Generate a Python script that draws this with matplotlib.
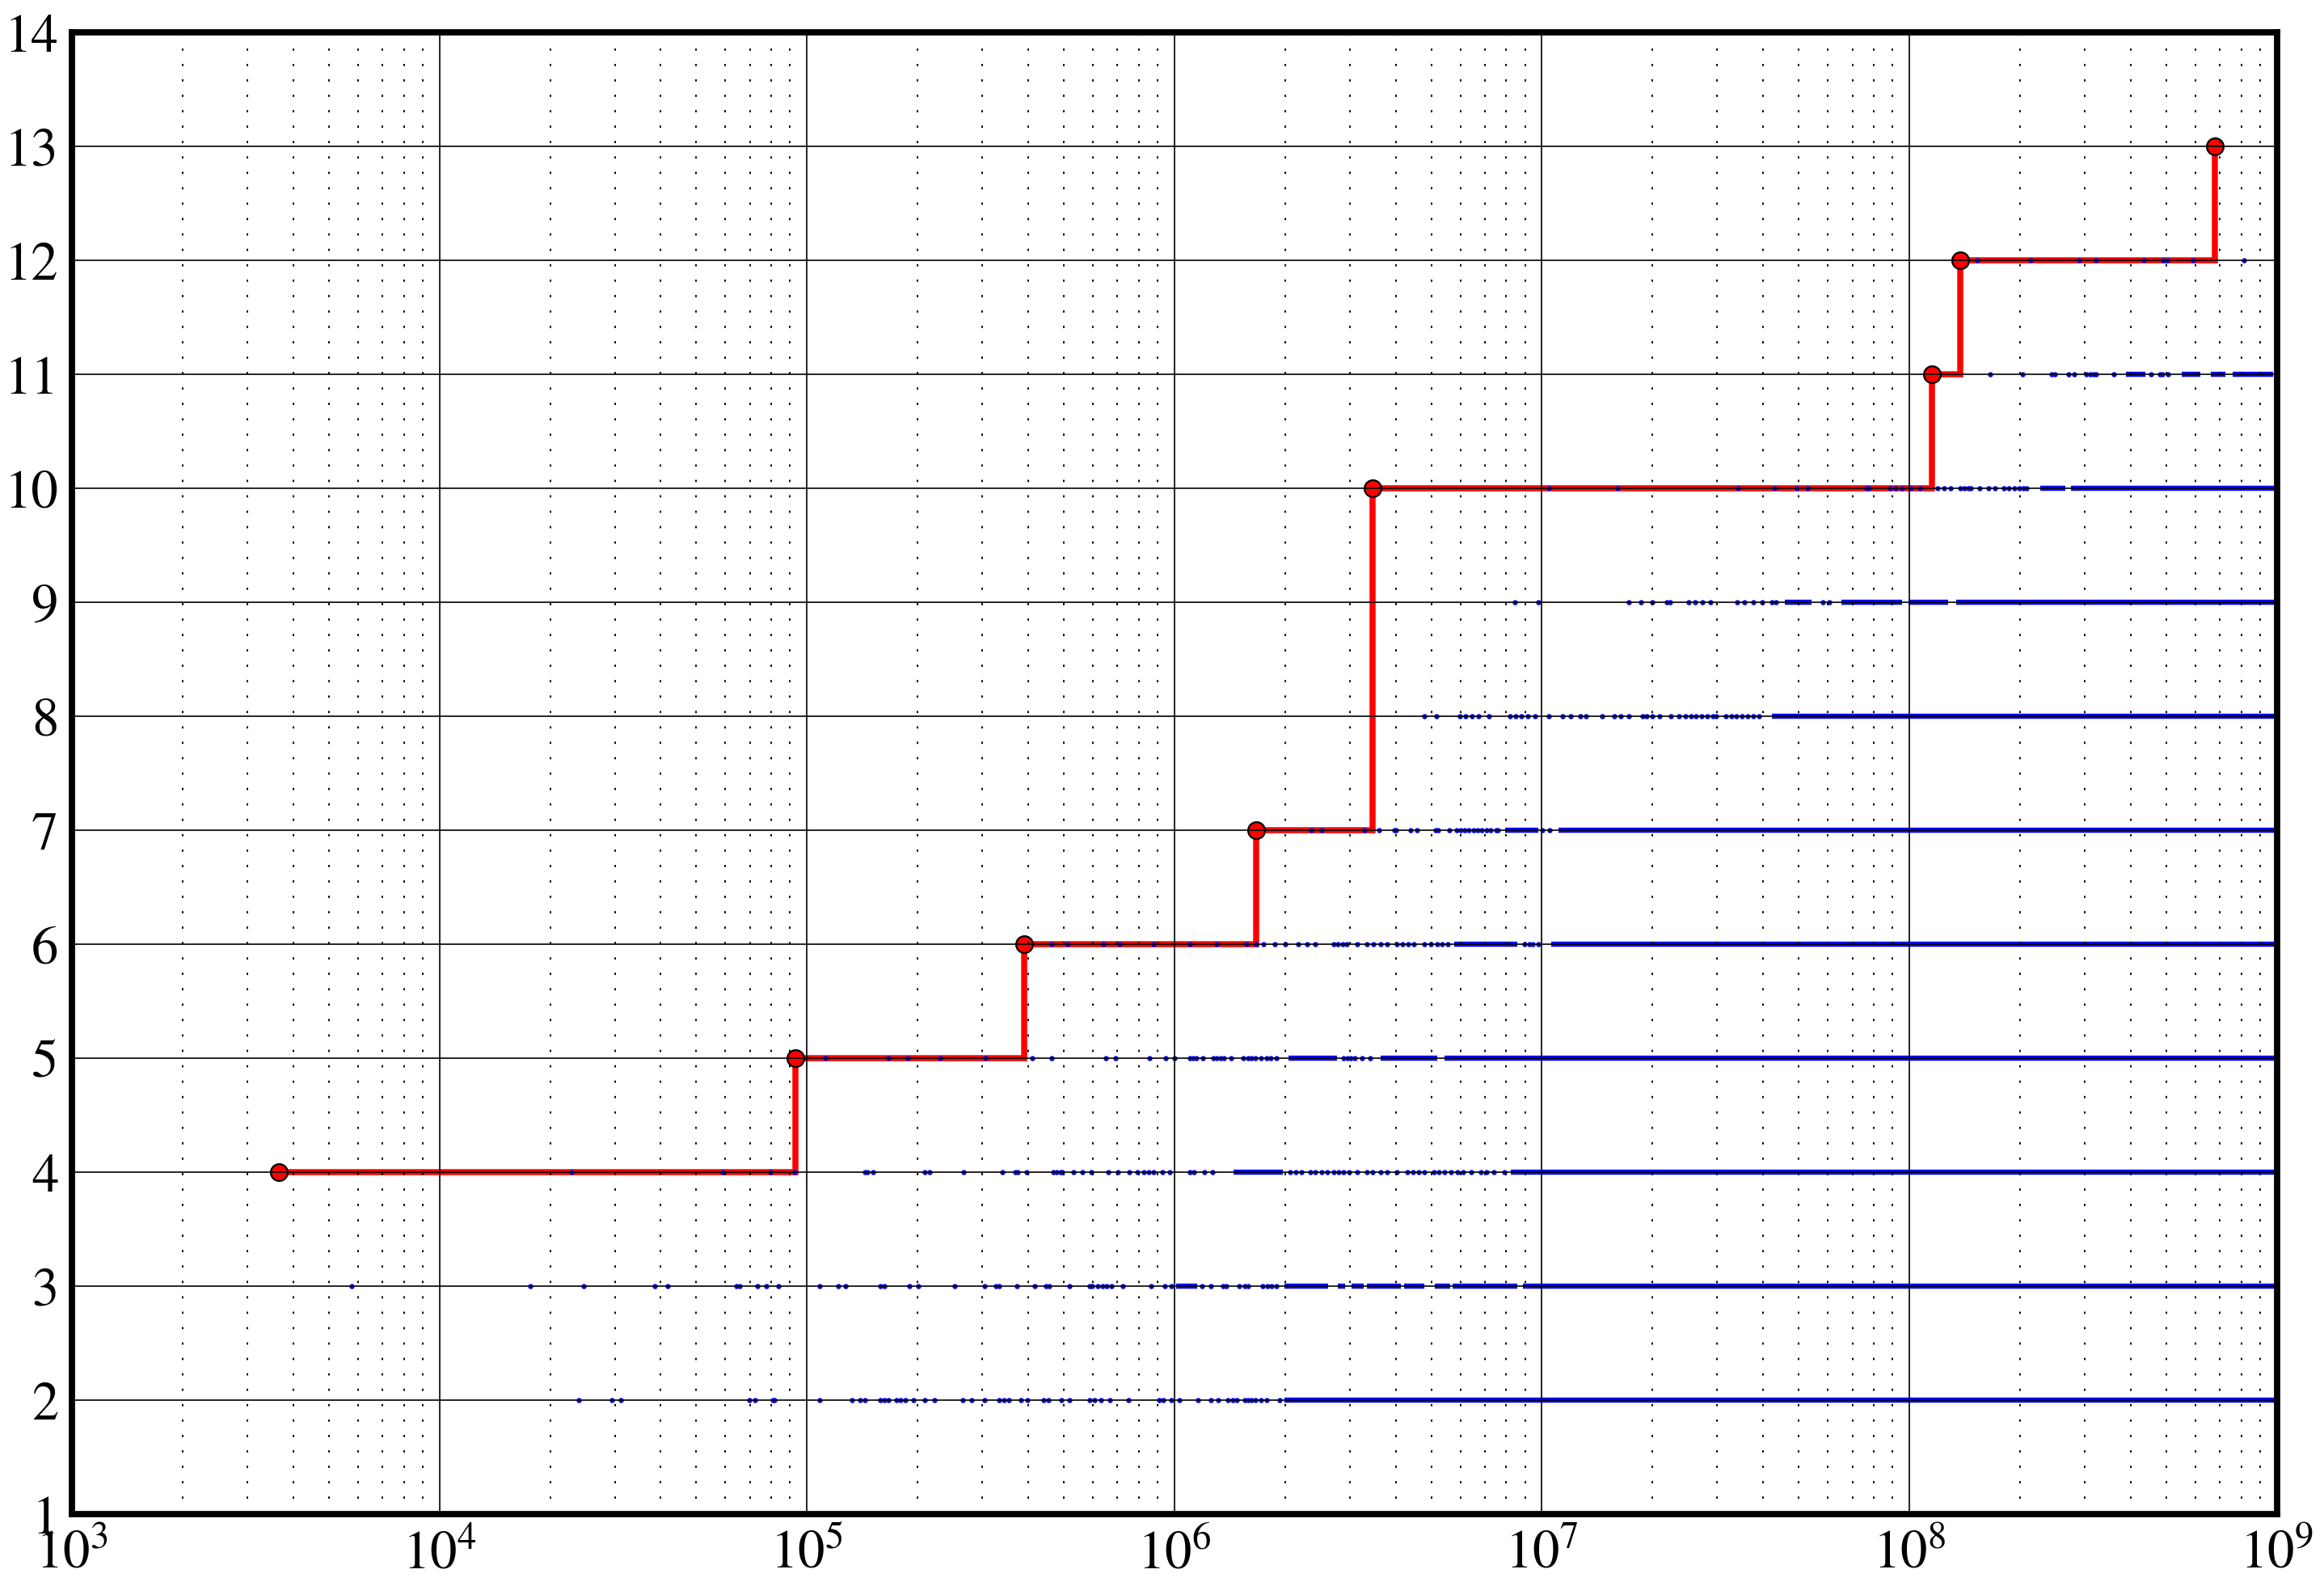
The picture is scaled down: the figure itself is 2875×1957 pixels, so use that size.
import numpy as np
import matplotlib
matplotlib.use('Agg')
import matplotlib.pyplot as plt
from matplotlib.ticker import LogLocator, NullFormatter

plt.rcParams['font.family'] = ['STIXGeneral', 'DejaVu Serif']
plt.rcParams['mathtext.fontset'] = 'stix'

# 红色台阶线：每一级首次出现的位置 (log10 x) 和对应的值
rec_logx = [3.563, 4.969, 5.592, 6.223, 6.540, 8.061, 8.138, 8.832]
rec_y = [4, 5, 6, 7, 10, 11, 12, 13]

# 蓝色散点 (log10 x)，每一行单独给出；密集处用区段 (起点, 终点) 表示
dots_2 = [4.379, 4.470, 4.494, 4.843, 4.858, 4.907, 4.911, 5.035, 5.122, 5.144,
          5.157, 5.199, 5.211, 5.222, 5.244, 5.255, 5.268, 5.290, 5.321, 5.348,
          5.423, 5.448, 5.483, 5.523, 5.536, 5.550, 5.583, 5.599, 5.643, 5.658,
          5.692, 5.714, 5.769, 5.783, 5.800, 5.825, 5.874, 5.958, 5.969, 5.991,
          6.013, 6.064, 6.100, 6.118, 6.146, 6.158, 6.169, 6.191, 6.200, 6.210,
          6.220, 6.235, 6.250, 6.286]
runs_2 = [(6.300, 9.0)]

dots_3 = [3.760, 4.246, 4.393, 4.585, 4.621, 4.807, 4.816, 4.865, 4.889, 4.923,
          5.035, 5.086, 5.104, 5.199, 5.211, 5.279, 5.304, 5.403, 5.483, 5.515,
          5.523, 5.572, 5.619, 5.650, 5.659, 5.714, 5.769, 5.776, 5.791, 5.805,
          5.816, 5.829, 5.860, 5.936, 5.973, 5.991, 6.075, 6.100, 6.133, 6.140,
          6.177, 6.191, 6.200, 6.239, 6.253, 6.264, 6.277]
runs_3 = [(6.004, 6.062), (6.300, 6.418), (6.444, 6.465), (6.481, 6.515),
          (6.524, 6.616), (6.625, 6.680), (6.709, 6.751), (6.756, 6.933),
          (6.949, 9.0)]

dots_4 = [4.360, 4.770, 4.901, 4.966, 5.157, 5.165, 5.180, 5.321, 5.333, 5.427,
          5.531, 5.567, 5.573, 5.598, 5.671, 5.680, 5.690, 5.695, 5.726, 5.749,
          5.773, 5.819, 5.846, 5.877, 5.899, 5.917, 5.930, 5.944, 5.968, 5.986,
          6.041, 6.054, 6.081, 6.103, 6.315, 6.330, 6.345, 6.369, 6.384, 6.400,
          6.417, 6.433, 6.446, 6.460, 6.475, 6.497, 6.524, 6.540, 6.561, 6.579,
          6.606, 6.634, 6.650, 6.665, 6.679, 6.706, 6.720, 6.734, 6.752, 6.770,
          6.785, 6.807, 6.834, 6.850, 6.870, 6.898]
runs_4 = [(6.160, 6.296), (6.916, 9.0)]

dots_5 = [5.051, 5.221, 5.275, 5.363, 5.485, 5.613, 5.665, 5.813, 5.840, 5.932,
          5.977, 6.001, 6.041, 6.050, 6.060, 6.077, 6.105, 6.115, 6.125, 6.135,
          6.154, 6.187, 6.200, 6.210, 6.220, 6.235, 6.250, 6.262, 6.278, 6.460,
          6.470, 6.480, 6.490, 6.510, 6.533]
runs_5 = [(6.311, 6.442), (6.561, 6.716), (6.734, 9.0)]

dots_6 = [5.665, 5.709, 5.806, 5.850, 5.944, 6.043, 6.114, 6.196, 6.223, 6.242,
          6.274, 6.302, 6.336, 6.360, 6.384, 6.433, 6.445, 6.457, 6.469, 6.497,
          6.524, 6.542, 6.561, 6.579, 6.606, 6.620, 6.635, 6.652, 6.679, 6.697,
          6.716, 6.729, 6.743, 6.953, 6.965, 6.975, 6.990]
runs_6 = [(6.761, 6.934), (7.026, 9.0)]

dots_7 = [6.371, 6.400, 6.518, 6.556, 6.598, 6.604, 6.642, 6.661, 6.711, 6.718,
          6.749, 6.768, 6.780, 6.790, 6.800, 6.815, 6.825, 6.837, 6.850, 6.860,
          6.875, 6.881, 7.001, 7.020]
runs_7 = [(6.900, 6.990), (7.045, 9.0)]

dots_8 = [6.680, 6.714, 6.776, 6.793, 6.810, 6.827, 6.857, 6.914, 6.928, 6.944,
          6.961, 6.981, 7.019, 7.057, 7.079, 7.104, 7.121, 7.163, 7.197, 7.214,
          7.236, 7.273, 7.285, 7.300, 7.320, 7.352, 7.374, 7.391, 7.407, 7.420,
          7.435, 7.450, 7.465, 7.475, 7.500, 7.517, 7.530, 7.545, 7.560, 7.575,
          7.590]
runs_8 = [(7.625, 9.0)]

dots_9 = [6.926, 6.990, 7.236, 7.269, 7.301, 7.340, 7.348, 7.399, 7.416, 7.436,
          7.458, 7.531, 7.551, 7.576, 7.600, 7.625, 7.638, 7.764, 7.783]
runs_9 = [(7.661, 7.733), (7.815, 7.979), (7.997, 8.105), (8.127, 9.0)]

dots_10 = [7.018, 7.206, 7.533, 7.632, 7.695, 7.723, 7.884, 7.890, 7.947, 7.963,
           7.981, 8.004, 8.029, 8.076, 8.094, 8.111, 8.138, 8.150, 8.160, 8.166,
           8.192, 8.215, 8.232, 8.257, 8.271, 8.285, 8.300, 8.310, 8.319]
runs_10 = [(8.357, 8.424), (8.440, 9.0)]

dots_11 = [8.220, 8.307, 8.386, 8.396, 8.434, 8.448, 8.481, 8.493, 8.501, 8.509,
           8.557, 8.658, 8.682, 8.689, 8.703]
runs_11 = [(8.590, 8.642), (8.741, 8.791), (8.820, 8.860), (8.880, 8.990)]

dots_12 = [8.185, 8.330, 8.462, 8.507, 8.638, 8.690, 8.701, 8.773, 8.910]
runs_12 = []

rows = {2: (dots_2, runs_2), 3: (dots_3, runs_3), 4: (dots_4, runs_4),
        5: (dots_5, runs_5), 6: (dots_6, runs_6), 7: (dots_7, runs_7),
        8: (dots_8, runs_8), 9: (dots_9, runs_9), 10: (dots_10, runs_10),
        11: (dots_11, runs_11), 12: (dots_12, runs_12)}

y_ticks = list(range(1, 15))

fig = plt.figure(figsize=(14.375, 9.79), dpi=200)
ax = fig.add_axes([0.031, 0.0431, 0.9487, 0.9361])
ax.set_xscale('log')

# 台阶线
rec_x = 10 ** np.array(rec_logx)
ax.plot(rec_x, rec_y, drawstyle='steps-post', color='#ff0000', lw=2.7,
        solid_joinstyle='miter', zorder=2)

# 蓝点
dot_size = 2.3
for level, (dots, runs) in rows.items():
    xs = 10 ** np.array(dots)
    ax.plot(xs, np.full(len(xs), level), 'o', color='#0000ff', ms=dot_size,
            mew=0, zorder=2.1)
    for a, b in runs:
        ax.hlines(level, 10 ** a, 10 ** b, color='#0000ff', lw=dot_size,
                  zorder=2.1)

# 台阶上的红圈
ax.plot(rec_x, rec_y, 'o', ms=7.5, mfc='#ff0000', mec='black', mew=0.8,
        zorder=2.2)

ax.set_xlim(1e3, 1e9)
ax.set_ylim(1, 14)
ax.set_yticks(y_ticks)
ax.xaxis.set_major_locator(LogLocator(base=10, numticks=10))
ax.xaxis.set_minor_locator(LogLocator(base=10, subs=np.arange(2, 10), numticks=20))
ax.xaxis.set_minor_formatter(NullFormatter())

# 网格画在数据上面
ax.set_axisbelow(False)
ax.grid(True, which='major', color='black', lw=0.6, ls='-')
ax.grid(True, which='minor', axis='x', color='black', lw=0.7,
        ls=(0, (1.4, 8.4)))

ax.tick_params(which='both', length=0, labelsize=24)
ax.tick_params(axis='x', pad=7)
ax.tick_params(axis='y', pad=6)
for sp in ax.spines.values():
    sp.set_linewidth(2.8)

fig.savefig('out.png', dpi=200)
